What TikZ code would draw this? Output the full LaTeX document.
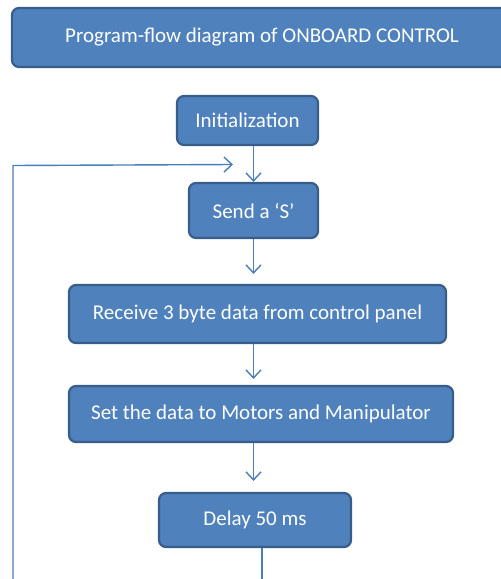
\documentclass[tikz,border=0pt]{standalone}
\usepackage{fontspec}
\setmainfont{Carlito}
\usetikzlibrary{arrows.meta}
\definecolor{boxfill}{HTML}{4F81BD}
\definecolor{boxline}{HTML}{385D8A}
\definecolor{flow}{HTML}{4A7EBB}
\tikzset{
  stepbox/.style={draw=boxline, line width=2.2pt, fill=boxfill, rounded corners=7pt,
    text=white, font=\fontsize{21}{24}\selectfont, inner sep=0pt, anchor=center},
  arr/.style={draw=flow, line width=1.4pt, -{Straight Barb[length=8pt,width=15pt,line width=1.4pt]}},
  ln/.style={draw=flow, line width=1.4pt}
}
\begin{document}
\begin{tikzpicture}[x=1pt,y=-1pt]
\useasboundingbox (0,0) rectangle (501,579);
\node[stepbox, minimum width=500pt, minimum height=59pt] (title) at (262,37.5) {Program-flow diagram of ONBOARD CONTROL};
\node[stepbox, minimum width=141pt, minimum height=49pt] (init) at (247.5,120.5) {Initialization};
\node[stepbox, minimum width=129pt, minimum height=55pt] (send) at (253.5,210.5) {Send a ‘S’};
\node[stepbox, minimum width=377pt, minimum height=58pt] (recv) at (257.5,314) {Receive 3 byte data from control panel};
\node[stepbox, minimum width=384pt, minimum height=56pt] (set) at (261,414) {Set the data to Motors and Manipulator};
\node[stepbox, minimum width=192pt, minimum height=54pt] (delay) at (255,520) {Delay 50 ms};
\coordinate (lb) at (13,580);
\coordinate (lt) at (13,165.5);
\coordinate (fb) at (233,164.5);
\coordinate (db) at (262,580);
\draw[arr] (init.south -| send.north) -- (send.north);
\draw[arr, shorten >=10pt] (send.south) -- (send.south |- recv.north);
\draw[arr, shorten >=6pt] (recv.south -| send.south) -- (send.south |- set.north);
\draw[arr, shorten >=11pt] (set.south -| send.south) -- (send.south |- delay.north);
\draw[ln] (delay.south -| db) -- (db);
\draw[arr] (lb) -- (lt) -- (fb);
\end{tikzpicture}
\end{document}
